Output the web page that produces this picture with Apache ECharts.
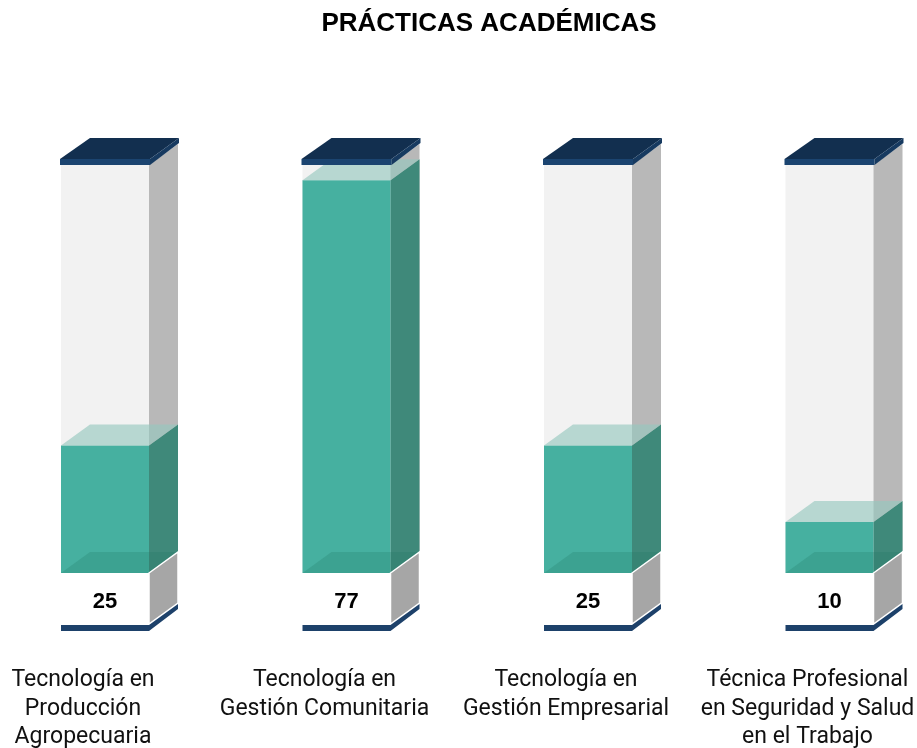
<!DOCTYPE html>
<html>
<head>
<meta charset="utf-8">
<script src="https://cdn.jsdelivr.net/npm/echarts@6/dist/echarts.min.js"></script>
<style>
  html, body { margin: 0; padding: 0; background: #fff; }
  #chart { width: 917px; height: 748px; }
</style>
</head>
<body>
<div id="chart"></div>
<script>
// chart data
const categories = [
  "Tecnología en\nProducción\nAgropecuaria",
  "Tecnología en\nGestión Comunitaria",
  "Tecnología en\nGestión Empresarial",
  "Técnica Profesional\nen Seguridad y Salud\nen el Trabajo"
];
const values = [25, 77, 25, 10];
const scaleMax = 80;

// box look (pixels)
const W = 88, DX = 29, DY = 21, BH = 51, SHIFT = 22;

const myChart = echarts.init(document.getElementById("chart"));

function renderBox(params, api) {
  const i = api.value(0);
  const v = api.value(1);
  const p0 = api.coord([i, 0]);
  const pv = api.coord([i, v]);
  const pm = api.coord([i, scaleMax]);
  const cx = p0[0] + SHIFT;
  const x0 = cx - W / 2, x1 = cx + W / 2;
  const y0 = p0[1], yv = pv[1], ym = pm[1];
  const yb = y0 + BH;

  return {
    type: "group",
    children: [
      // empty container
      { type: "rect", shape: { x: x0, y: ym, width: W, height: y0 - ym }, style: { fill: "#f2f2f2" } },
      { type: "polygon", shape: { points: [[x1, ym], [x1 + DX, ym - DY], [x1 + DX, y0 - DY], [x1, y0]] }, style: { fill: "#b8b8b8" } },
      // teal fill
      { type: "polygon", shape: { points: [[x1, yv], [x1 + DX, yv - DY], [x1 + DX, y0 - DY], [x1, y0]] }, style: { fill: "#3f897a" } },
      { type: "rect", shape: { x: x0, y: yv, width: W, height: y0 - yv }, style: { fill: "#46b0a0" } },
      { type: "polygon", shape: { points: [[x0, y0], [x1, y0], [x1 + DX, y0 - DY], [x0 + DX, y0 - DY]] }, style: { fill: "rgba(30,120,100,0.25)" } },
      { type: "polygon", shape: { points: [[x0, yv], [x1, yv], [x1 + DX, yv - DY], [x0 + DX, yv - DY]] }, style: { fill: "rgba(150,200,190,0.65)" } },
      // white base
      { type: "rect", shape: { x: x0, y: y0, width: W, height: BH }, style: { fill: "#ffffff" } },
      { type: "polygon", shape: { points: [[x1, y0], [x1 + DX, y0 - DY], [x1 + DX, yb - DY], [x1, yb]] }, style: { fill: "#a6a6a6", stroke: "#ffffff", lineWidth: 1.5 } },
      { type: "polygon", shape: { points: [[x0, yb + 1], [x1, yb + 1], [x1 + DX, yb + 1 - DY], [x1 + DX, yb + 6 - DY], [x1, yb + 7], [x0, yb + 7]] }, style: { fill: "#1d416a" } },
      {
        type: "text",
        style: {
          x: cx, y: y0 + 29, text: String(v), align: "center", verticalAlign: "middle",
          font: "bold 22px 'Liberation Sans', Arial, sans-serif", fill: "#000"
        }
      },
      // navy cap
      { type: "polygon", shape: { points: [[x0 - 1, ym - 6], [x1 + 1, ym - 6], [x1 + DX + 1, ym - 6 - DY], [x0 + DX, ym - 6 - DY]] }, style: { fill: "#122f4f" } },
      { type: "polygon", shape: { points: [[x0 - 1, ym - 6], [x1 + 1, ym - 6], [x1 + 1, ym], [x0 - 1, ym]] }, style: { fill: "#1b4470" } },
      { type: "polygon", shape: { points: [[x1 + 1, ym - 6], [x1 + DX + 1, ym - 6 - DY], [x1 + DX + 1, ym - DY - 1], [x1 + 1, ym]] }, style: { fill: "#173a60" } }
    ]
  };
}

const option = {
  animation: false,
  title: {
    text: "PRÁCTICAS ACADÉMICAS",
    left: 484,
    top: 6,
    textAlign: "center",
    textStyle: { fontSize: 26, fontWeight: "bold", color: "#000", fontFamily: "Liberation Sans" }
  },
  grid: { left: 83, width: 724.5, top: 165, bottom: 175, outerBoundsMode: "none" },
  xAxis: {
    type: "category",
    data: categories,
    boundaryGap: false,
    axisLine: { show: false },
    axisTick: { show: false },
    axisLabel: {
      interval: 0,
      margin: 93,
      fontSize: 23,
      lineHeight: 28.5,
      color: "#111",
      fontFamily: "Roboto"
    }
  },
  yAxis: { type: "value", min: 0, max: scaleMax, show: false },
  series: [
    {
      type: "custom",
      renderItem: renderBox,
      data: values.map((v, i) => [i, v])
    }
  ]
};

myChart.setOption(option);
</script>
</body>
</html>
